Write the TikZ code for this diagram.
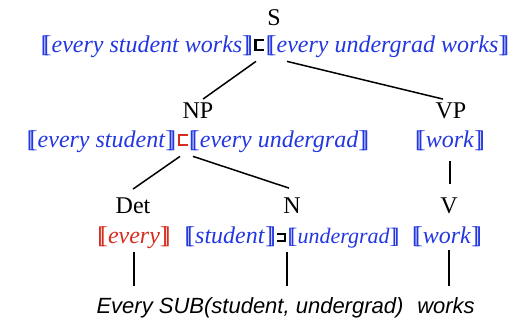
\documentclass[tikz,border=0pt]{standalone}
\usepackage{fontspec}
\setmainfont{Liberation Serif}
\newfontfamily\bottomfont{Liberation Sans}
\definecolor{semblue}{RGB}{35,55,225}
\definecolor{semred}{RGB}{215,45,30}
\newcommand\lsb{\textup{[\kern-0.22em[}}
\newcommand\rsb{\textup{]\kern-0.22em]}}
\newcommand\sem[1]{\lsb\textit{#1}\rsb}
% square subset / superset drawn from rules: #1 width, #2 height
\newcommand\sqsubsym[2]{\kern1.5pt\raisebox{1pt}{\rlap{\rule{2.2pt}{#2}}\rlap{\rule{#1}{2.2pt}}\raisebox{\dimexpr#2-2.2pt\relax}{\rule{#1}{2.2pt}}}\kern1.5pt}
\newcommand\sqsupsym[2]{\kern1.5pt\raisebox{1pt}{\rlap{\rule{#1}{2.2pt}}\rlap{\raisebox{\dimexpr#2-2.2pt\relax}{\rule{#1}{2.2pt}}}\kern\dimexpr#1-2.2pt\relax\rule{2.2pt}{#2}}\kern1.5pt}
\begin{document}
\begin{tikzpicture}[x=1pt,y=-1pt,
  cat/.style={font=\fontsize{24}{28}\selectfont, inner sep=3pt, anchor=base},
  lab/.style={font=\fontsize{24}{28}\selectfont, inner sep=2pt, anchor=base, text=semblue},
  bot/.style={font=\fontsize{22}{26}\selectfont\bottomfont\itshape, inner sep=2pt, anchor=base},
  edge/.style={draw=black, line width=1.5pt}]
\useasboundingbox (0,0) rectangle (514,322);
% level 0
\node[cat] (s) at (274,25) {S};
\node[lab] (sl) at (275,52) {\sem{every student works}\textcolor{black}{\sqsubsym{10pt}{12pt}}\sem{every undergrad works}};
% level 1
\node[cat] (np) at (198,118) {NP};
\node[cat] (vp) at (451,118) {VP};
\node[lab] (npl) at (198,147) {\sem{every student}\textcolor{semred}{\sqsubsym{10pt}{12pt}}\sem{every undergrad}};
\node[lab] (vpl) at (450,147) {\sem{work}};
% level 2
\node[cat] (det) at (133,213) {Det};
\node[cat] (n) at (292,213) {N};
\node[cat] (v) at (449,213) {V};
\node[lab, text=semred] (detl) at (134,243) {\sem{every}};
\node[lab] (nl) at (292,243) {\sem{student}\textcolor{black}{\sqsupsym{9pt}{9pt}}{\fontsize{22}{26}\selectfont\sem{undergrad}}};
\node[lab] (vl) at (447,243) {\sem{work}};
% words
\node[bot] (w1) at (250,313) {Every SUB(student, undergrad)};
\node[bot] (w2) at (446,313) {works};
% connectors
\draw[edge] ([xshift=-19pt,yshift=-2pt]sl.south) -- ([xshift=5pt]np.north);
\draw[edge] ([xshift=12pt,yshift=-2pt]sl.south) -- ([xshift=-8pt]vp.north);
\draw[edge] ([xshift=-18pt,yshift=-2pt]npl.south) -- ([xshift=0pt,yshift=5pt]det.north);
\draw[edge] ([xshift=-5pt,yshift=-2pt]npl.south) -- ([xshift=-3pt,yshift=6pt]n.north);
\draw[edge, shorten <=9pt, shorten >=10pt] (vpl.south) -- (vpl.south |- v.north);
\draw[edge, shorten <=2pt, shorten >=9pt] (detl.south) -- (detl.south |- w1.north);
\draw[edge, shorten <=2pt, shorten >=9pt] ([xshift=-5pt]nl.south) -- ([xshift=-5pt]nl.south |- w1.north);
\draw[edge, shorten <=2pt, shorten >=9pt] ([xshift=2pt]vl.south) -- ([xshift=2pt]vl.south |- w2.north);
\end{tikzpicture}
\end{document}
